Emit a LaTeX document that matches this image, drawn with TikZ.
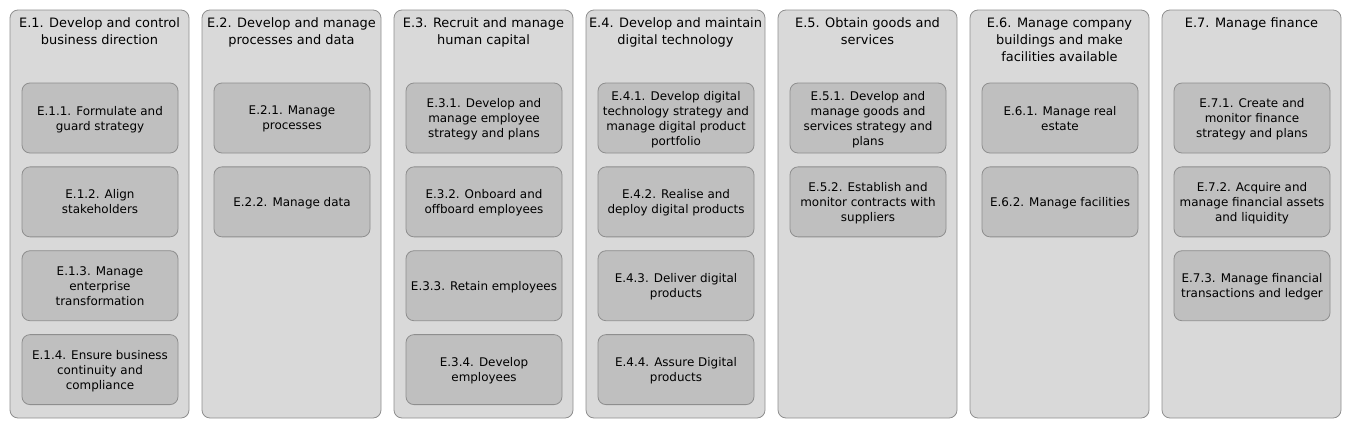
\documentclass[tikz,border=0pt]{standalone}
\usepackage{fontspec}
\setmainfont{DejaVu Sans}
\usetikzlibrary{positioning}

\definecolor{groupfill}{HTML}{D9D9D9}
\definecolor{itemfill}{HTML}{BFBFBF}
\definecolor{edgegray}{HTML}{8E8E8E}

\begin{document}
\begin{tikzpicture}[line cap=round, line join=round, x=0.75pt, y=-0.75pt,
    node distance=9.8pt,
    group/.style={draw=edgegray, fill=groupfill, line width=0.6pt, rounded corners=6pt,
        minimum width=134.25pt, minimum height=306pt, inner sep=0pt},
    title/.style={anchor=north, align=center, inner sep=0pt,
        font=\fontsize{9.7}{12.75}\selectfont},
    item/.style={draw=edgegray, fill=itemfill, line width=0.6pt, rounded corners=6pt,
        minimum width=117pt, minimum height=52.5pt, align=center, inner sep=1pt,
        font=\fontsize{8.95}{11.25}\selectfont, text depth=-0.9pt}]
    \useasboundingbox (0,0) rectangle (1352,429);
    % columns with their headings
    \foreach \i/\name in {1/{E.1. Develop and control\\business direction},
                          2/{E.2. Develop and manage\\processes and data},
                          3/{E.3. Recruit and manage\\human capital},
                          4/{E.4. Develop and maintain\\digital technology},
                          5/{E.5. Obtain goods and\\services},
                          6/{E.6. Manage company\\buildings and make\\facilities available},
                          7/{E.7. Manage finance}}
    {
        \node[group] (g\i) at ({99.5+192*(\i-1)}, 214) {};
        \node[title] (t\i) at ([yshift=-5.75pt]g\i.north) {\name};
    }
    % E.1
    \node[item] (e11) at (100,118) {E.1.1. Formulate and\\guard strategy};
    \node[item, below=of e11] (e12) {E.1.2. Align\\stakeholders};
    \node[item, below=of e12] (e13) {E.1.3. Manage\\enterprise\\transformation};
    \node[item, below=of e13] (e14) {E.1.4. Ensure business\\continuity and\\compliance};
    % E.2
    \node[item] (e21) at (292,118) {E.2.1. Manage\\processes};
    \node[item, below=of e21] (e22) {E.2.2. Manage data};
    % E.3
    \node[item] (e31) at (484,118) {E.3.1. Develop and\\manage employee\\strategy and plans};
    \node[item, below=of e31] (e32) {E.3.2. Onboard and\\offboard employees};
    \node[item, below=of e32] (e33) {E.3.3. Retain employees};
    \node[item, below=of e33] (e34) {E.3.4. Develop\\employees};
    % E.4
    \node[item] (e41) at (676,118) {E.4.1. Develop digital\\technology strategy and\\manage digital product\\portfolio};
    \node[item, below=of e41] (e42) {E.4.2. Realise and\\deploy digital products};
    \node[item, below=of e42] (e43) {E.4.3. Deliver digital\\products};
    \node[item, below=of e43] (e44) {E.4.4. Assure Digital\\products};
    % E.5
    \node[item] (e51) at (868,118) {E.5.1. Develop and\\manage goods and\\services strategy and\\plans};
    \node[item, below=of e51] (e52) {E.5.2. Establish and\\monitor contracts with\\suppliers};
    % E.6
    \node[item] (e61) at (1060,118) {E.6.1. Manage real\\estate};
    \node[item, below=of e61] (e62) {E.6.2. Manage facilities};
    % E.7
    \node[item] (e71) at (1252,118) {E.7.1. Create and\\monitor finance\\strategy and plans};
    \node[item, below=of e71] (e72) {E.7.2. Acquire and\\manage financial assets\\and liquidity};
    \node[item, below=of e72] (e73) {E.7.3. Manage financial\\transactions and ledger};
\end{tikzpicture}
\end{document}
